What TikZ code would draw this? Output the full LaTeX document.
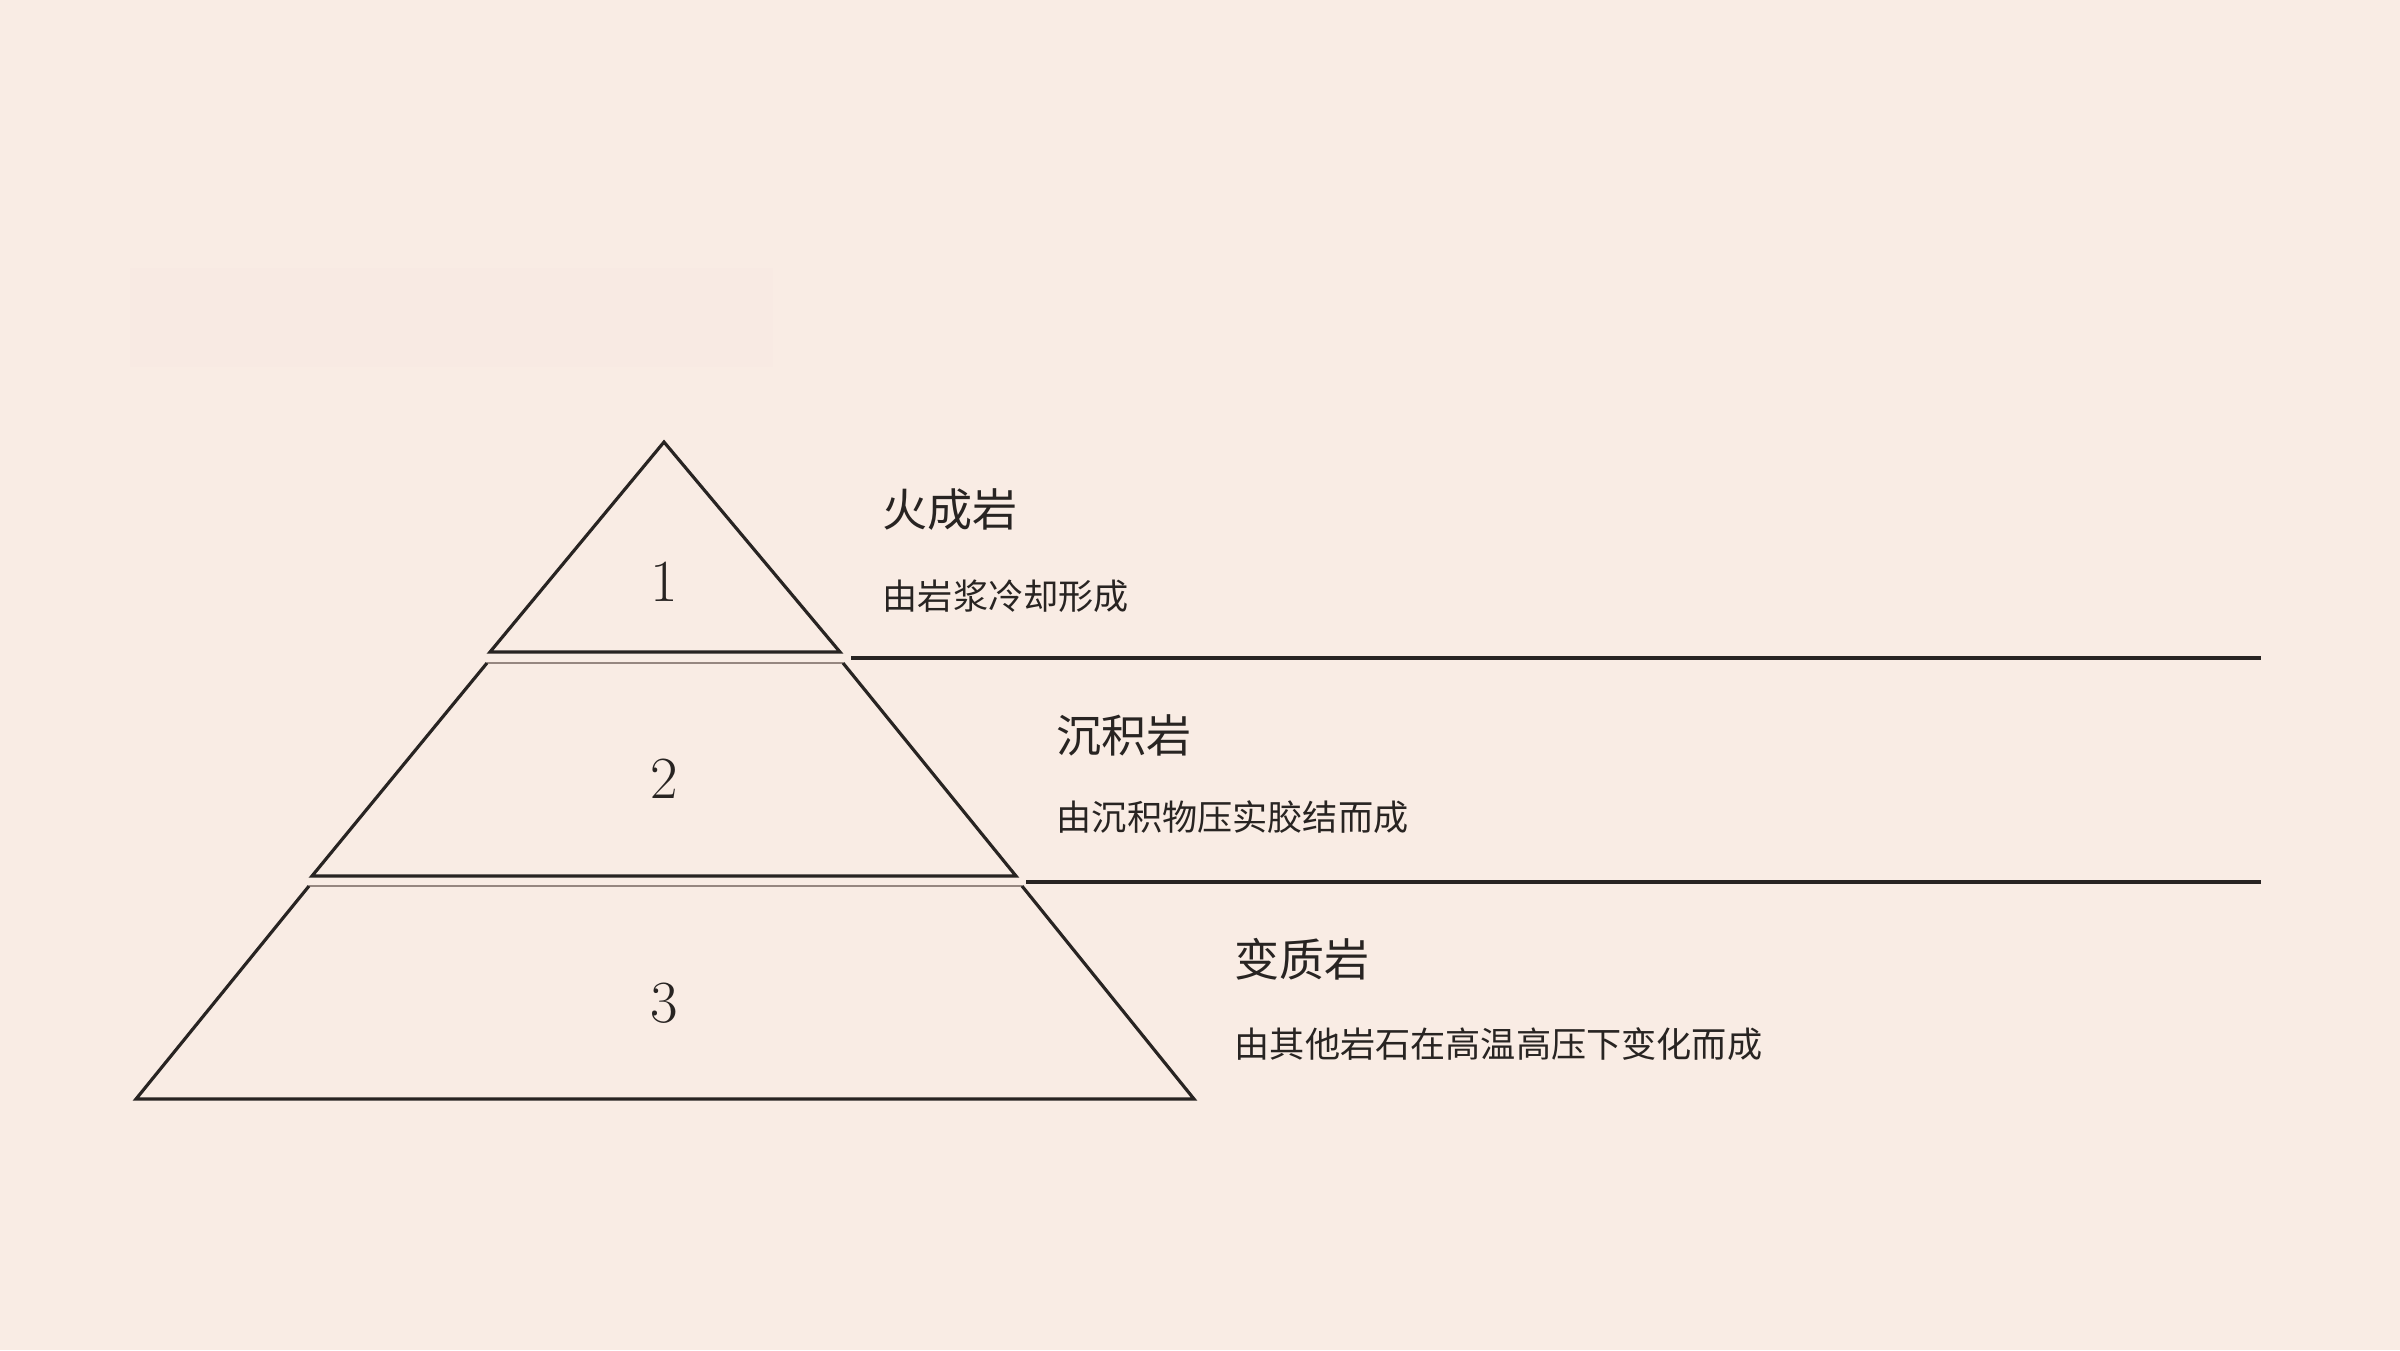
\documentclass[tikz,border=0pt]{standalone}
\usepackage{fontspec}
\newfontfamily\cjk{Noto Sans CJK SC}
\definecolor{bgc}{RGB}{249,236,228}
\definecolor{ghostc}{RGB}{248,234,227}
\definecolor{inkc}{RGB}{40,36,34}
\definecolor{topedge}{RGB}{150,135,128}
\tikzset{
  layeredge/.style={draw=inkc, line width=0.9pt, line join=miter},
  layertop/.style={draw=topedge, line width=0.7pt},
  sepline/.style={draw=inkc, line width=0.9pt},
  numlabel/.style={font=\fontsize{17}{20}\selectfont, text=inkc, inner sep=0pt},
  titlelabel/.style={font=\cjk\fontsize{12.8}{15}\selectfont, text=inkc, anchor=west, inner sep=0pt},
  desclabel/.style={font=\cjk\fontsize{10}{12}\selectfont, text=inkc, anchor=west, inner sep=0pt}
}
\begin{document}
\begin{tikzpicture}[x=0.01cm,y=-0.01cm]
\fill[bgc] (0,0) rectangle (2400,1350);
\useasboundingbox (0,0) rectangle (2400,1350);
% faint ghost block
\fill[ghostc] (130,268) rectangle (773,367);
% corners
\coordinate (apex) at (664,442);
\coordinate (b1l) at (490,652);
\coordinate (b1r) at (840,652);
\coordinate (t2l) at (487,663);
\coordinate (t2r) at (843,663);
\coordinate (b2l) at (312,876);
\coordinate (b2r) at (1016,876);
\coordinate (t3l) at (309,886);
\coordinate (t3r) at (1022,886);
\coordinate (b3l) at (136,1099);
\coordinate (b3r) at (1194,1099);
% layers
\draw[layeredge] (b1r) -- (apex) -- (b1l) -- cycle;
\draw[layertop] (t2l) -- (t2r);
\draw[layeredge] (t2r) -- (b2r) -- (b2l) -- (t2l);
\draw[layertop] (t3l) -- (t3r);
\draw[layeredge] (t3r) -- (b3r) -- (b3l) -- (t3l);
% separator lines
\coordinate (l1a) at (851,658);
\coordinate (l1b) at (2261,658);
\coordinate (l2a) at (1026,882);
\coordinate (l2b) at (2261,882);
\draw[sepline] (l1a) -- (l1b);
\draw[sepline] (l2a) -- (l2b);
% numbers
\node[numlabel] (n1) at (664,582) {1};
\node[numlabel] (n2) at (664,779) {2};
\node[numlabel] (n3) at (664,1003) {3};
% titles and descriptions
\node[titlelabel] (h1) at (882,510) {火成岩};
\node[desclabel] (d1) at (882,596) {由岩浆冷却形成};
\node[titlelabel] (h2) at (1056,735) {沉积岩};
\node[desclabel] (d2) at (1056,817) {由沉积物压实胶结而成};
\node[titlelabel] (h3) at (1234,959) {变质岩};
\node[desclabel] (d3) at (1234,1044) {由其他岩石在高温高压下变化而成};
\end{tikzpicture}
\end{document}
